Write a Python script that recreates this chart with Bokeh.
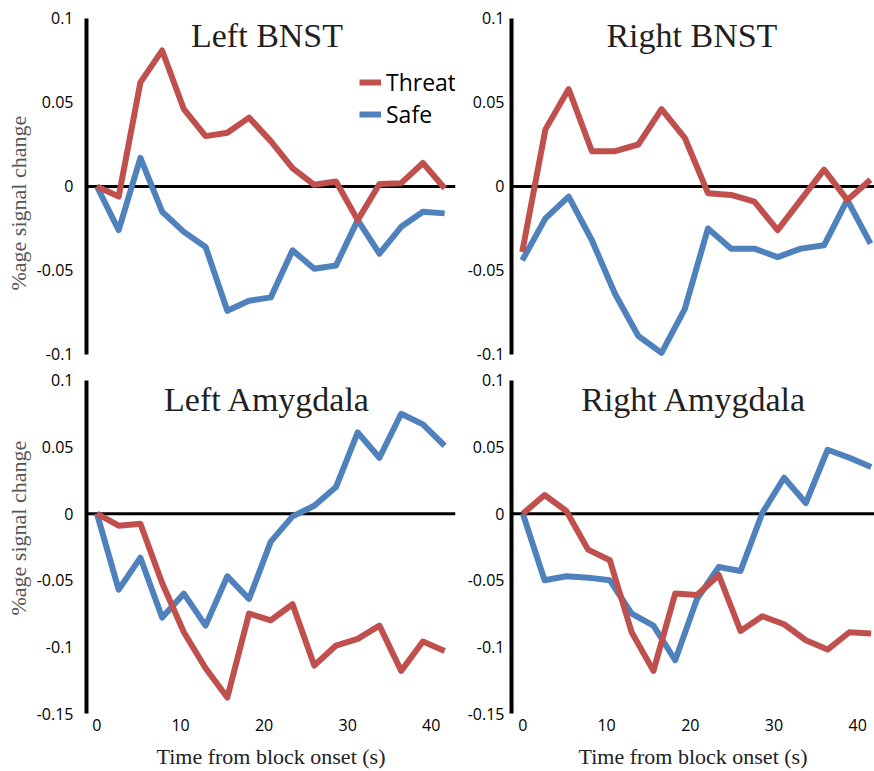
from bokeh.plotting import figure
from bokeh.layouts import gridplot
from bokeh.models import Span, Label, Legend, LegendItem, FixedTicker, Title
from bokeh.embed import file_html
from bokeh.resources import INLINE

# ---------------- data ----------------
TR = 2.6
time_full = [round(TR * i, 1) for i in range(17)]          # 0 .. 41.6 s
time_rbnst = [round(TR * i, 1) for i in range(1, 17)]      # Right BNST: 16 samples

lbnst_threat = [0.0, -0.006, 0.062, 0.081, 0.046, 0.030, 0.032, 0.041, 0.027,
                0.011, 0.001, 0.003, -0.020, 0.0015, 0.002, 0.014, -0.001]
lbnst_safe = [0.0, -0.026, 0.017, -0.015, -0.027, -0.036, -0.074, -0.068, -0.066,
              -0.038, -0.049, -0.047, -0.020, -0.040, -0.024, -0.015, -0.016]

rbnst_threat = [-0.039, 0.034, 0.058, 0.021, 0.021, 0.025, 0.046, 0.029,
                -0.004, -0.005, -0.009, -0.026, -0.008, 0.010, -0.008, 0.004]
rbnst_safe = [-0.044, -0.019, -0.006, -0.032, -0.064, -0.089, -0.099, -0.073,
              -0.025, -0.037, -0.037, -0.042, -0.037, -0.035, -0.008, -0.034]

lamy_threat = [0.0, -0.009, -0.0075, -0.052, -0.089, -0.116, -0.138, -0.075, -0.080,
               -0.068, -0.114, -0.099, -0.094, -0.084, -0.118, -0.096, -0.103]
lamy_safe = [0.0, -0.057, -0.033, -0.078, -0.060, -0.084, -0.047, -0.064, -0.021,
             -0.002, 0.006, 0.020, 0.061, 0.042, 0.075, 0.067, 0.051]

ramy_threat = [0.0, 0.014, 0.002, -0.027, -0.035, -0.089, -0.118, -0.060, -0.061,
               -0.046, -0.088, -0.077, -0.083, -0.095, -0.102, -0.089, -0.090]
ramy_safe = [0.0, -0.050, -0.047, -0.048, -0.050, -0.075, -0.084, -0.110, -0.064,
             -0.040, -0.043, 0.0005, 0.027, 0.008, 0.048, 0.042, 0.035]

titles = ["Left BNST", "Right BNST", "Left Amygdala", "Right Amygdala"]
series_names = ["Threat", "Safe"]
yticks_top = [-0.1, -0.05, 0, 0.05, 0.1]
yticks_bottom = [-0.15, -0.1, -0.05, 0, 0.05, 0.1]
xticks = [0, 10, 20, 30, 40]
ylabel = "%age signal change"
xlabel = "Time from block onset (s)"

RED = "#c0504d"
BLUE = "#4f81bd"
TICK_FONT = "Open Sans"
SERIF = "Liberation Serif"


def make_panel(width, height, x_range, y_range, bounds, yticks, border, x_axis,
               tick_standoff):
    p = figure(width=width, height=height, x_range=x_range, y_range=y_range,
               output_backend="svg", toolbar_location=None,
               x_axis_location="below" if x_axis else None,
               min_border_left=border[0], min_border_right=border[1],
               min_border_top=border[2], min_border_bottom=border[3])
    p.outline_line_color = None
    p.grid.visible = False
    p.background_fill_color = "white"
    p.border_fill_color = "white"
    ya = p.yaxis[0]
    ya.ticker = FixedTicker(ticks=yticks)
    ya.major_label_overrides = {v: f"{v:g}" for v in yticks}
    ya.bounds = bounds
    ya.axis_line_width = 4
    ya.axis_line_color = "black"
    ya.major_tick_line_color = None
    ya.minor_tick_line_color = None
    ya.major_tick_out = 0
    ya.major_tick_in = 0
    ya.major_label_standoff = tick_standoff
    ya.major_label_text_font = TICK_FONT
    ya.major_label_text_font_size = "16px"
    ya.major_label_text_color = "black"
    if x_axis:
        xa = p.xaxis[0]
        xa.ticker = FixedTicker(ticks=xticks)
        xa.axis_line_color = None
        xa.major_tick_line_color = None
        xa.minor_tick_line_color = None
        xa.major_tick_out = 0
        xa.major_tick_in = 0
        xa.major_label_standoff = 3
        xa.major_label_text_font = TICK_FONT
        xa.major_label_text_font_size = "16px"
        xa.major_label_text_color = "black"
        xa.axis_label = xlabel
        xa.axis_label_text_font = SERIF
        xa.axis_label_text_font_style = "normal"
        xa.axis_label_text_font_size = "22px"
        xa.axis_label_text_color = "#222222"
        xa.axis_label_standoff = 10
    p.add_layout(Span(location=0, dimension="width", line_color="black",
                      line_width=3, level="underlay"))
    return p


def add_lines(p, t, threat, safe):
    rs = p.line(t, safe, line_color=BLUE, line_width=6, line_join="round")
    rt = p.line(t, threat, line_color=RED, line_width=6, line_join="round")
    return rt, rs


def add_title(p, text, x, y):
    p.add_layout(Label(x=x, y=y, text=text, text_align="center",
                       text_baseline="middle", text_font=SERIF,
                       text_font_size="34px", text_color="#231f20"))


def add_ylabel(p, offset):
    p.add_layout(Title(text=ylabel, align="left", offset=offset, standoff=6,
                       text_font=SERIF, text_font_size="22px",
                       text_font_style="normal", text_color="#555555"), "left")


TOP_H, BOT_H = 367, 404
LEFT_W, RIGHT_W = 458, 416

# Top-left: Left BNST
p1 = make_panel(LEFT_W, TOP_H, (-1.25, 42.9), (-0.10536, 0.10476), (-0.1, 0.1),
                yticks_top, (85, 3, 10, 4), False, 13)
rt, rs = add_lines(p1, time_full, lbnst_threat, lbnst_safe)
add_title(p1, titles[0], 20.35, 0.0899)
add_ylabel(p1, 73)
legend = Legend(items=[LegendItem(label=series_names[0], renderers=[rt]),
                       LegendItem(label=series_names[1], renderers=[rs])],
                location=(273, 233), glyph_width=22, glyph_height=24,
                label_standoff=5, spacing=0, padding=0, margin=0,
                border_line_color=None, background_fill_alpha=0,
                label_text_font=TICK_FONT, label_text_font_size="23px",
                label_text_color="black", label_height=24)
p1.add_layout(legend)

# Top-right: Right BNST
p2 = make_panel(RIGHT_W, TOP_H, (1.4, 42.05), (-0.10536, 0.10476), (-0.1, 0.1),
                yticks_top, (53, 0, 10, 4), False, 7)
add_lines(p2, time_rbnst, rbnst_threat, rbnst_safe)
add_title(p2, titles[1], 21.6, 0.0899)

# Bottom-left: Left Amygdala
p3 = make_panel(LEFT_W, BOT_H, (-1.25, 42.9), (-0.15149, 0.10373), (-0.15, 0.1),
                yticks_bottom, (85, 3, 8, 54), True, 13)
add_lines(p3, time_full, lamy_threat, lamy_safe)
add_title(p3, titles[2], 20.4, 0.0854)
add_ylabel(p3, 100)

# Bottom-right: Right Amygdala
p4 = make_panel(RIGHT_W, BOT_H, (-1.35, 42.0), (-0.15149, 0.10373), (-0.15, 0.1),
                yticks_bottom, (53, 0, 8, 54), True, 7)
add_lines(p4, time_full, ramy_threat, ramy_safe)
add_title(p4, titles[3], 20.45, 0.0854)

grid = gridplot([[p1, p2], [p3, p4]], toolbar_location=None)

with open("out.html", "w") as f:
    f.write(file_html(grid, INLINE))
